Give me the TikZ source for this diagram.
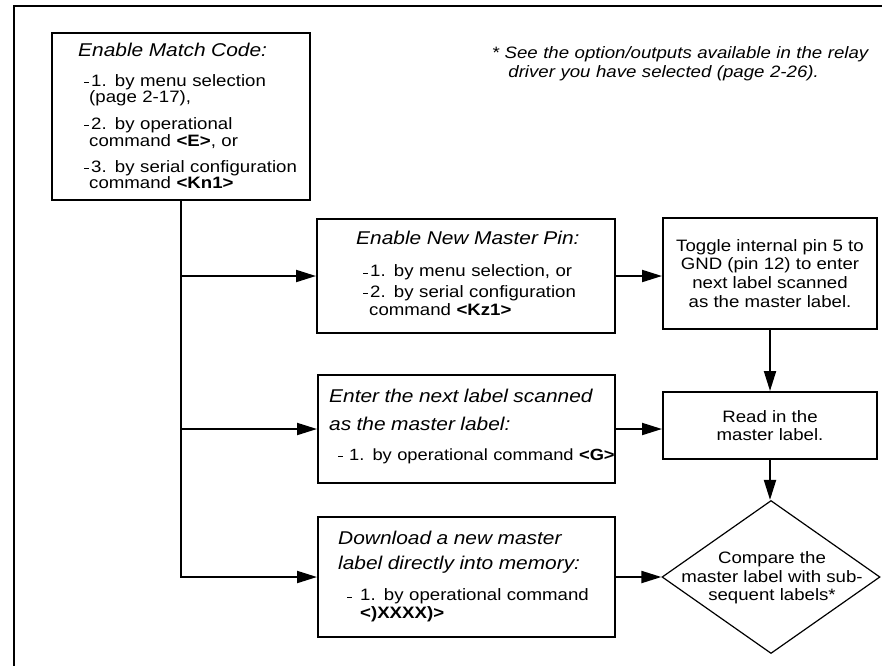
\documentclass[tikz,border=0pt]{standalone}
\usepackage{fontspec}
\setmainfont{Liberation Sans}[FakeStretch=1.13]
\newfontfamily\hdfont{Liberation Sans}[FakeStretch=1.13]
\usetikzlibrary{arrows.meta,shapes.geometric}
\newcommand{\dsh}[1][7pt]{\makebox[#1][l]{\rule[3.1pt]{4.8pt}{1.3pt}}}
\newcommand{\hdr}[2]{{\hdfont\itshape\fontsize{#1}{16}\selectfont #2}}
\begin{document}
\begin{tikzpicture}[x=1pt,y=-1pt,
  box/.style={draw,line width=2pt,inner sep=0pt},
  conn/.style={line width=2pt,-{Triangle[length=20pt,width=12pt]}},
  txt/.style={inner sep=0pt,anchor=north west,align=left,text width=420pt},
  ctxt/.style={align=center,font=\fontsize{16.5}{#1}\selectfont}
]
\useasboundingbox (0,0) rectangle (882,665);
% outer frame
\coordinate (fa) at (14,6);
\coordinate (fb) at (884,6);
\coordinate (fc) at (14,667);
\draw[line width=2pt] (fb) -- (fa) -- (fc);

% boxes
\node[box,minimum width=258,minimum height=167] (b1) at (181,116.5) {};
\node[box,minimum width=298,minimum height=114] (b2) at (466,276) {};
\node[box,ctxt=18.9,minimum width=214,minimum height=111] (b3) at (770,273.5)
  {Toggle internal pin 5 to\\GND (pin 12) to enter\\next label scanned\\as the master label.};
\node[box,ctxt=18.3,minimum width=214,minimum height=67] (rd) at (770,425.5)
  {Read in the\\master label.};
\node[box,minimum width=297,minimum height=108] (b4) at (466.5,429) {};
\node[box,minimum width=297,minimum height=120] (b5) at (466.5,577) {};
\node[diamond,draw,line width=1.2pt,minimum width=218,minimum height=153,inner sep=0pt] (dm) at (771,577) {};
\node[ctxt=18.3,inner sep=0pt] (dmt) at (772,578) {Compare the\\master label with sub-\\sequent labels*};

% texts in boxes
\node[txt,font=\fontsize{16.5}{16.7}\selectfont] (t1) at (78,42)
  {\noindent\rule{0pt}{14pt}\hdr{18.5}{Enable Match Code:}\\[13.3pt]
   \hspace*{6pt}\dsh 1. by menu selection\\
   \hspace*{11pt}(page 2-17),\\[9.9pt]
   \hspace*{6pt}\dsh 2. by operational\\
   \hspace*{11pt}command \textbf{<E>}, or\\[9.3pt]
   \hspace*{6pt}\dsh 3. by serial configuration\\
   \hspace*{11pt}command \textbf{<Kn1>}};

\node[txt,font=\fontsize{16.5}{17.7}\selectfont] (t2) at (356,230.3)
  {\noindent\rule{0pt}{14pt}\hdr{18.5}{Enable New Master Pin:}\\[14.7pt]
   \hspace*{7pt}\dsh 1. by menu selection, or\\[2.9pt]
   \hspace*{7pt}\dsh 2. by serial configuration\\
   \hspace*{13pt}command \textbf{<Kz1>}};

\node[txt,font=\fontsize{16.2}{18}\selectfont] (t4) at (329,387.7)
  {\noindent\rule{0pt}{15pt}\hdr{18.5}{Enter the next label scanned}\\[9.3pt]
   \hdr{18.5}{as the master label:}\\[12pt]
   \hspace*{9pt}\dsh[11pt]1. by operational command \textbf{<G>}};

\node[txt,font=\fontsize{16.5}{18}\selectfont] (t5) at (338,529)
  {\noindent\rule{0pt}{15pt}\hdr{18.5}{Download a new master}\\[7.3pt]
   \hdr{18.5}{label directly into memory:}\\[13.4pt]
   \hspace*{9pt}\dsh[13pt]1. by operational command\\
   \hspace*{22pt}\textbf{<)XXXX)>}};

% footnote
\node[txt,font=\fontsize{16.5}{18.6}\selectfont\itshape] (note) at (491.7,44.7)
  {\noindent\rule{0pt}{14pt}* See the option/outputs available in the relay\\
   \hspace*{16.5pt}driver you have selected (page 2-26).};

% connectors
\draw[conn] (b1.south) |- (b5.west);
\draw[conn] (b1.south |- b2.west) -- (b2.west);
\draw[conn] (b1.south |- b4.west) -- (b4.west);
\draw[conn] (b2.east) -- (b2.east -| b3.west);
\draw[conn] (b3.south) -- (rd.north);
\draw[conn] (b4.east) -- (b4.east -| rd.west);
\draw[conn] (rd.south) -- (rd.south |- dm.north);
\draw[conn] (b5.east) -- (dm.west);
\end{tikzpicture}
\end{document}
